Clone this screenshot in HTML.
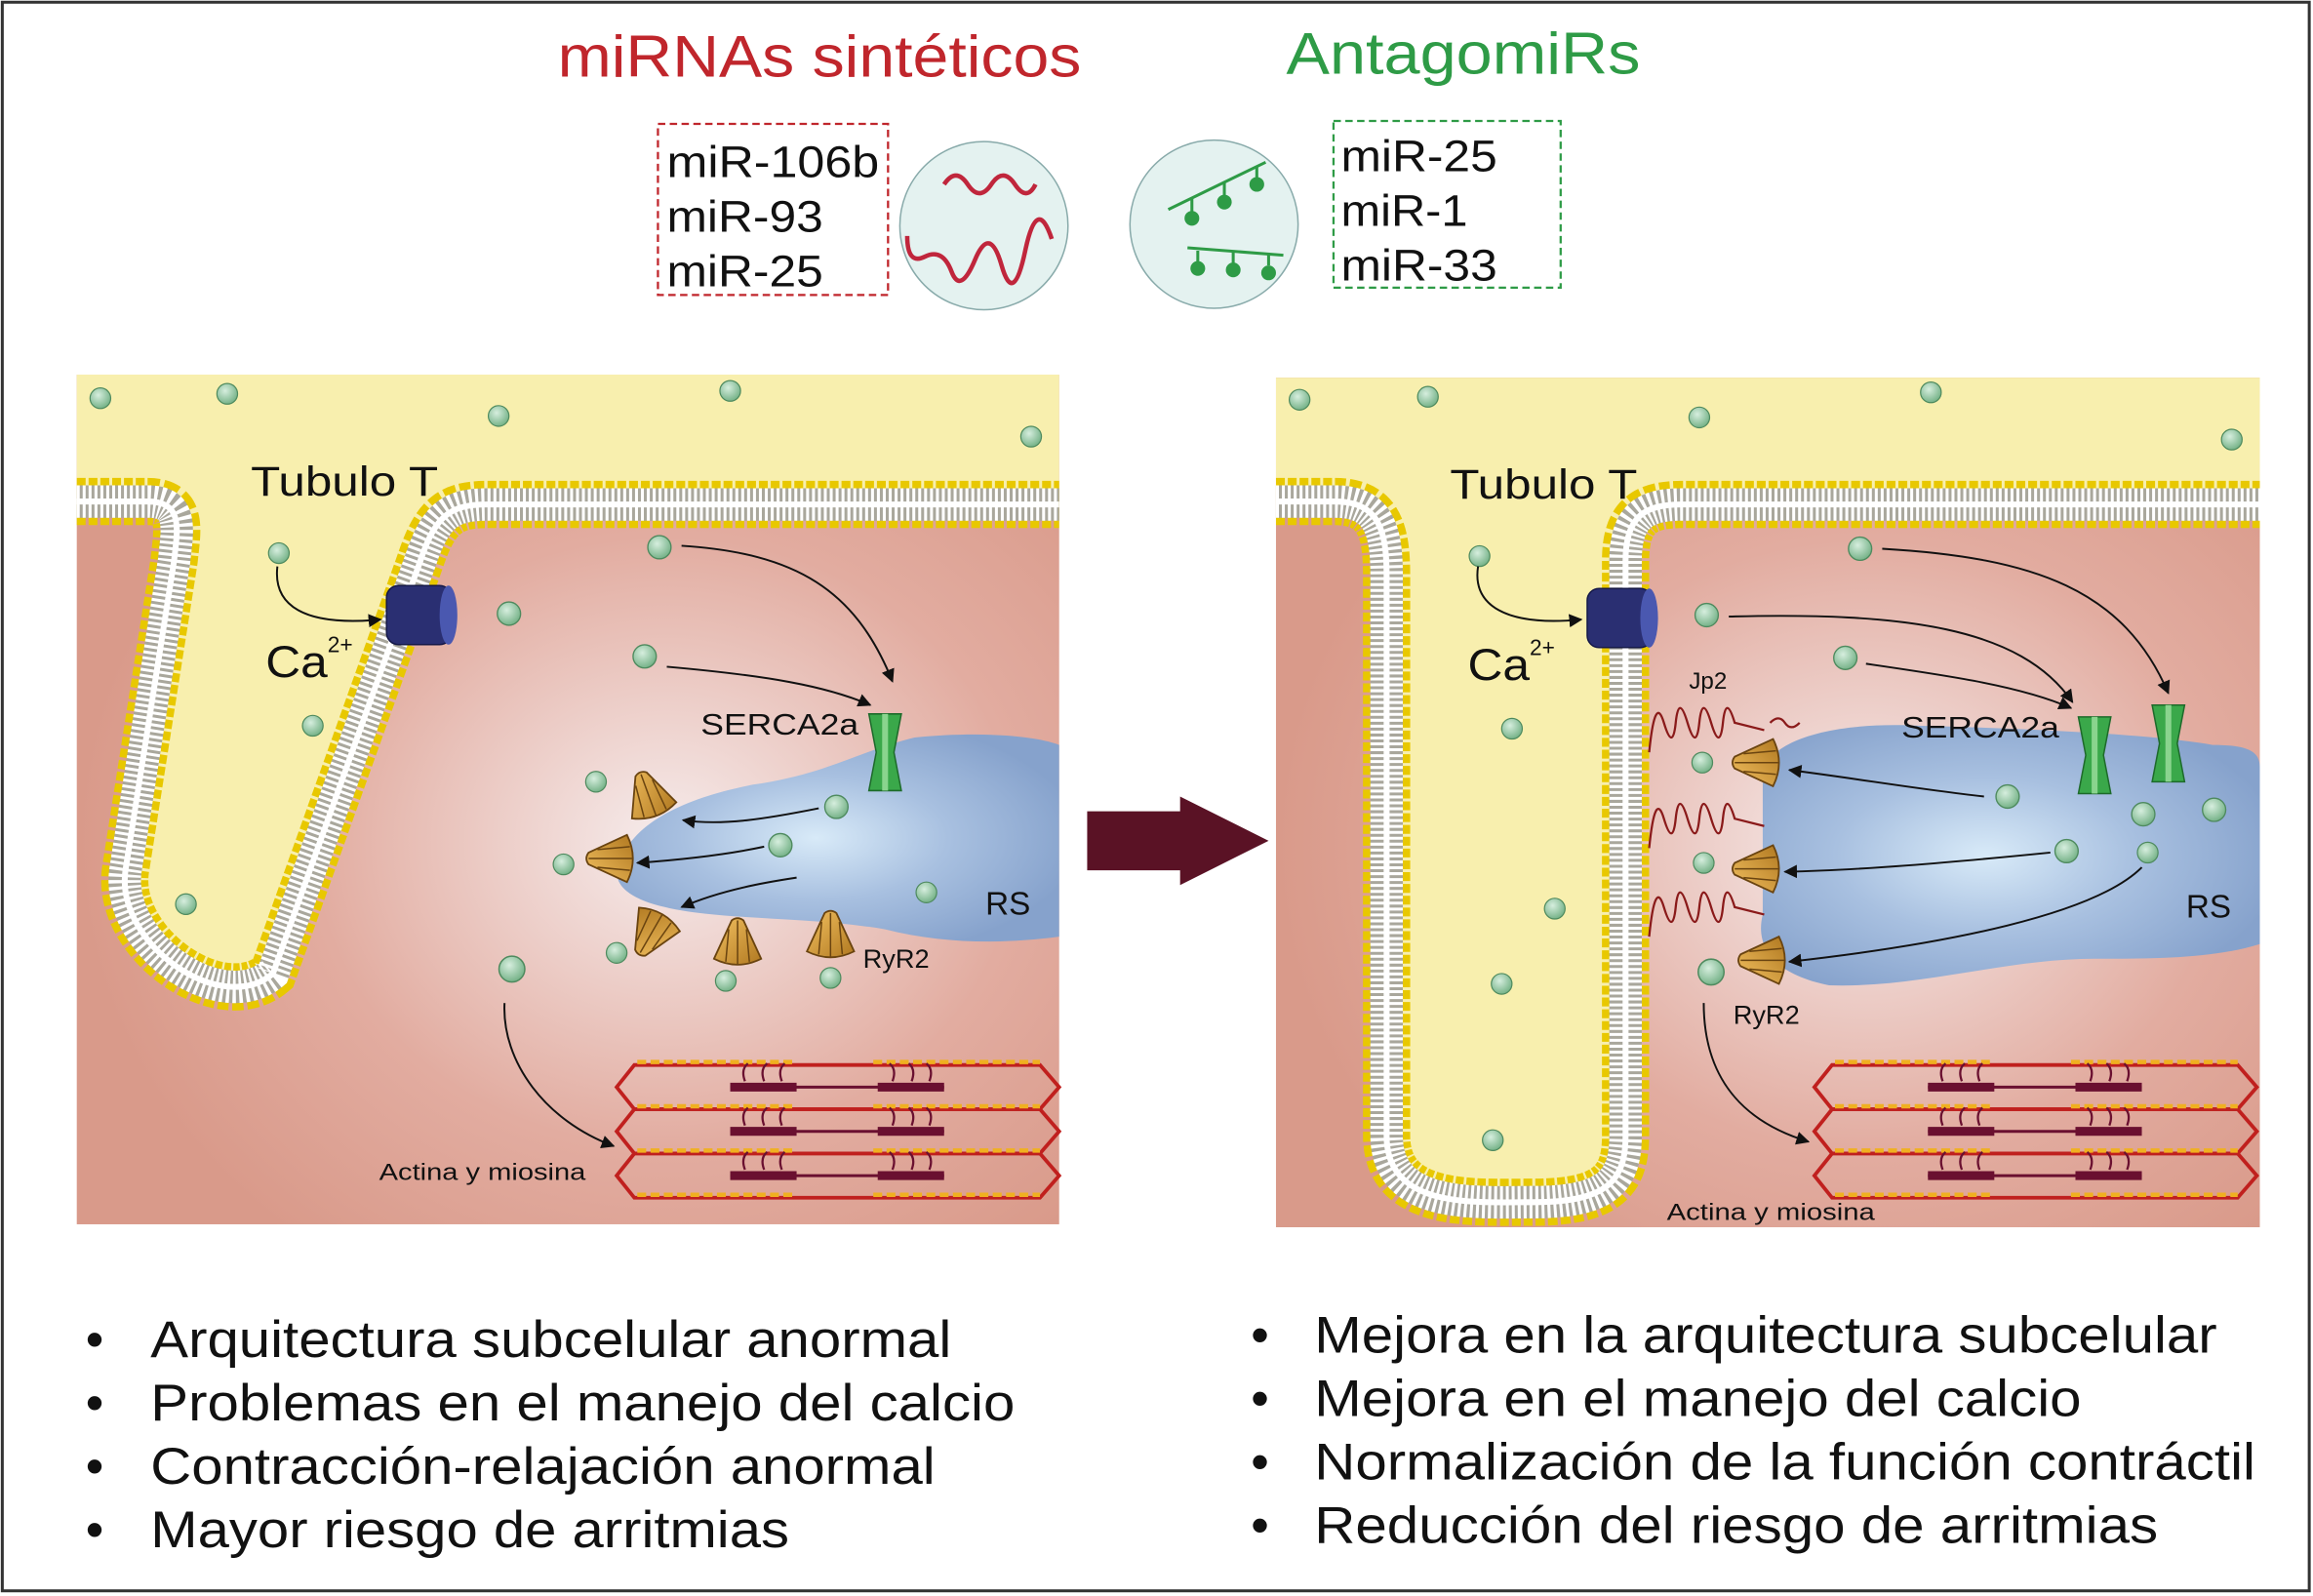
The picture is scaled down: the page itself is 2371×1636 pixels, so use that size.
<!DOCTYPE html>
<html><head><meta charset="utf-8"><style>
html,body{margin:0;padding:0;background:#fff}
svg{display:block}
text{font-family:"Liberation Sans",sans-serif}
</style></head><body>
<svg width="2371" height="1636" viewBox="0 0 1568 1082" xmlns="http://www.w3.org/2000/svg">
<defs>
<radialGradient id="cyto" cx="0.6" cy="0.55" r="0.6"><stop offset="0" stop-color="#f6ecec"/><stop offset="0.6" stop-color="#e2aca0"/><stop offset="1" stop-color="#d99a8a"/></radialGradient>
<radialGradient id="sr" cx="0.45" cy="0.5" r="0.6"><stop offset="0" stop-color="#d8eaf8"/><stop offset="0.5" stop-color="#a8c0e0"/><stop offset="1" stop-color="#86a2cc"/></radialGradient>
<radialGradient id="dot" cx="0.4" cy="0.35" r="0.7"><stop offset="0" stop-color="#d6eede"/><stop offset="1" stop-color="#6fae82"/></radialGradient>
<linearGradient id="ryr" x1="0" y1="0" x2="1" y2="1"><stop offset="0" stop-color="#f2c060"/><stop offset="1" stop-color="#b07820"/></linearGradient>
<marker id="ah" viewBox="0 0 10 10" refX="9" refY="5" markerWidth="7" markerHeight="7" orient="auto"><path d="M0,0L10,5L0,10z" fill="#111"/></marker>
<symbol id="g" viewBox="-8 -8 16 16"><circle r="7" fill="url(#dot)" stroke="#4e8a5e" stroke-width="0.8"/></symbol>
<symbol id="ry" viewBox="-20 -20 40 40"><path d="M-16,10 L-4,-16 Q0,-19 4,-16 L16,10 Q0,18 -16,10z" fill="url(#ryr)" stroke="#6a4410" stroke-width="1.2"/><path d="M-6,-10 L-8,12 M6,-10 L8,12 M0,-16 L0,14" stroke="#6a4410" stroke-width="1" fill="none"/></symbol>
<symbol id="serca" viewBox="-12 -28 24 56"><path d="M-11,-26 L11,-26 L6,0 L11,26 L-11,26 L-6,0z" fill="#3aa84a" stroke="#1d6a2a" stroke-width="1"/><rect x="-2" y="-26" width="4" height="52" fill="#8ad48e"/></symbol>
</defs>
<rect x="1.5" y="1.5" width="1564" height="1077" fill="#fff" stroke="#333" stroke-width="2"/>

<text x="378" y="52" font-size="40" fill="#c0262c" textLength="355" lengthAdjust="spacingAndGlyphs">miRNAs sintéticos</text>
<text x="872" y="50" font-size="40" fill="#2e9b46" textLength="240" lengthAdjust="spacingAndGlyphs">AntagomiRs</text>
<rect x="446" y="84" width="156" height="116" fill="none" stroke="#c0262c" stroke-width="1.5" stroke-dasharray="5 3"/>
<text x="452" y="120" font-size="30" fill="#111" textLength="144" lengthAdjust="spacingAndGlyphs">miR-106b</text>
<text x="452" y="157" font-size="30" fill="#111" textLength="106" lengthAdjust="spacingAndGlyphs">miR-93</text>
<text x="452" y="194" font-size="30" fill="#111" textLength="106" lengthAdjust="spacingAndGlyphs">miR-25</text>
<circle cx="667" cy="153" r="57" fill="#e4f2f0" stroke="#8aa" stroke-width="1"/>
<path d="M640,125 q8,-12 16,0 t16,0 t16,0 t14,0" fill="none" stroke="#c0263c" stroke-width="3"/>
<path d="M615,160 q0,20 12,14 t18,10 t16,-8 t18,4 t16,-10 t18,-8" fill="none" stroke="#c0263c" stroke-width="3"/>
<circle cx="823" cy="152" r="57" fill="#e4f2f0" stroke="#8aa" stroke-width="1"/>
<path d="M792,142 L858,110 M805,168 L870,173" stroke="#2e9b46" stroke-width="2"/>
<g fill="#2e9b46"><circle cx="808" cy="148" r="5"/><circle cx="830" cy="137" r="5"/><circle cx="852" cy="125" r="5"/><circle cx="812" cy="182" r="5"/><circle cx="836" cy="183" r="5"/><circle cx="860" cy="185" r="5"/></g>
<path d="M808,134v10M830,124v10M852,113v10M812,170v8M836,171v8M860,172v8" stroke="#2e9b46" stroke-width="2"/>
<rect x="904" y="82" width="154" height="113" fill="none" stroke="#2e9b46" stroke-width="1.5" stroke-dasharray="5 3"/>
<text x="909" y="116" font-size="30" fill="#111" textLength="106" lengthAdjust="spacingAndGlyphs">miR-25</text>
<text x="909" y="153" font-size="30" fill="#111" textLength="86" lengthAdjust="spacingAndGlyphs">miR-1</text>
<text x="909" y="190" font-size="30" fill="#111" textLength="106" lengthAdjust="spacingAndGlyphs">miR-33</text>

<!-- LEFT PANEL -->
<rect x="52" y="254" width="666" height="576" fill="url(#cyto)"/>
<path id="lm" d="M52,340 L100,340 C125,340 120,360 118,380 L85,590 C78,640 150,690 185,660 L285,380 C295,350 305,342 330,342 L718,342" fill="none"/>
<path d="M52,254 L718,254 L718,342 L330,342 C305,342 295,350 285,380 L185,660 C150,690 78,640 85,590 L118,380 C120,360 125,340 100,340 L52,340z" fill="#f8efae"/>
<use href="#lm" stroke="#e8c800" stroke-width="32" stroke-dasharray="6 2"/>
<use href="#lm" stroke="#a9a79c" stroke-width="22"/>
<use href="#lm" stroke="#fff" stroke-width="22" stroke-dasharray="2 2"/>
<use href="#lm" stroke="#fff" stroke-width="4"/>
<path d="M420,585 C430,555 470,540 510,532 C560,525 580,510 620,500 C660,496 700,498 718,505 L718,635 C680,640 640,640 600,630 C540,620 480,625 440,612 C420,605 415,595 420,585z" fill="url(#sr)"/>
<rect x="262" y="397" width="44" height="40" rx="8" fill="#2a2f72" stroke="#141848"/><ellipse cx="304" cy="417" rx="6" ry="20" fill="#4a58b0"/>
<use href="#serca" x="588" y="482" width="24" height="56"/>
<use href="#ry" x="420" y="520" width="40" height="40" transform="rotate(-20 440 540)"/>
<use href="#ry" x="395" y="562" width="40" height="40" transform="rotate(-90 415 582)"/>
<use href="#ry" x="422" y="612" width="40" height="40" transform="rotate(-150 442 632)"/>
<use href="#ry" x="480" y="620" width="40" height="40"/>
<use href="#ry" x="543" y="615" width="40" height="40"/>
<g><use href="#g" x="60" y="262" width="16" height="16"/><use href="#g" x="146" y="259" width="16" height="16"/><use href="#g" x="330" y="274" width="16" height="16"/><use href="#g" x="487" y="257" width="16" height="16"/><use href="#g" x="691" y="288" width="16" height="16"/>
<use href="#g" x="181" y="367" width="16" height="16"/><use href="#g" x="204" y="484" width="16" height="16"/><use href="#g" x="118" y="605" width="16" height="16"/>
<use href="#g" x="438" y="362" width="18" height="18"/><use href="#g" x="336" y="407" width="18" height="18"/><use href="#g" x="428" y="436" width="18" height="18"/><use href="#g" x="396" y="522" width="16" height="16"/><use href="#g" x="558" y="538" width="18" height="18"/><use href="#g" x="520" y="564" width="18" height="18"/><use href="#g" x="374" y="578" width="16" height="16"/><use href="#g" x="620" y="597" width="16" height="16"/><use href="#g" x="410" y="638" width="16" height="16"/><use href="#g" x="484" y="657" width="16" height="16"/><use href="#g" x="555" y="655" width="16" height="16"/><use href="#g" x="337" y="647" width="20" height="20"/></g>
<g fill="none" stroke="#111" stroke-width="1.3" marker-end="url(#ah)">
<path d="M188,384 C185,410 205,425 258,420"/>
<path d="M462,370 C540,375 580,400 605,462"/>
<path d="M452,452 C520,458 560,465 590,478"/>
<path d="M555,548 C520,555 490,560 463,556"/>
<path d="M518,574 C490,580 460,583 432,585"/>
<path d="M540,595 C520,598 490,603 462,615"/>
<path d="M342,680 C340,720 370,760 416,777"/>
</g>
<g id="sarcL">
<g fill="none" stroke="#c0201e" stroke-width="2.5">
<path d="M430,722 L705,722 L718,737 L705,752 L430,752 L418,737z"/>
<path d="M430,752 L705,752 L718,767 L705,782 L430,782 L418,767z"/>
<path d="M430,782 L705,782 L718,797 L705,812 L430,812 L418,797z"/>
</g>
<g stroke="#f0b020" stroke-width="3" stroke-dasharray="6 3"><path d="M432,720H540M592,720H705M432,750H540M592,750H705M432,780H540M592,780H705M432,810H540M592,810H705"/></g>
<g stroke="#6a1030" stroke-width="2"><path d="M495,737H640M495,767H640M495,797H640"/></g>
<g stroke="#6a1030" stroke-width="6"><path d="M495,737H540M595,737H640M495,767H540M595,767H640M495,797H540M595,797H640"/></g>
<g stroke="#6a1030" stroke-width="1.5" fill="none"><path d="M505,733 q-3,-8 2,-12 M518,733 q-3,-8 2,-12 M530,733 q-3,-8 2,-12 M605,733 q3,-8 -2,-12 M618,733 q3,-8 -2,-12 M630,733 q3,-8 -2,-12 M505,763 q-3,-8 2,-12 M518,763 q-3,-8 2,-12 M530,763 q-3,-8 2,-12 M605,763 q3,-8 -2,-12 M618,763 q3,-8 -2,-12 M630,763 q3,-8 -2,-12 M505,793 q-3,-8 2,-12 M518,793 q-3,-8 2,-12 M530,793 q-3,-8 2,-12 M605,793 q3,-8 -2,-12 M618,793 q3,-8 -2,-12 M630,793 q3,-8 -2,-12"/></g>
</g>
<text x="170" y="336" font-size="28" fill="#111" textLength="127" lengthAdjust="spacingAndGlyphs">Tubulo T</text>
<text x="180" y="459" font-size="30" fill="#111" textLength="42" lengthAdjust="spacingAndGlyphs">Ca</text><text x="222" y="442" font-size="15" fill="#111">2+</text>
<text x="475" y="498" font-size="20" fill="#111" textLength="107" lengthAdjust="spacingAndGlyphs">SERCA2a</text>
<text x="668" y="620" font-size="22" fill="#111">RS</text>
<text x="585" y="656" font-size="18" fill="#111">RyR2</text>
<text x="257" y="800" font-size="16" fill="#111" textLength="140" lengthAdjust="spacingAndGlyphs">Actina y miosina</text>

<path d="M737,550 L800,550 L800,540 L860,570 L800,600 L800,590 L737,590z" fill="#5a1225"/>

<!-- RIGHT PANEL -->
<rect x="865" y="256" width="667" height="576" fill="url(#cyto)"/>
<path id="rm" d="M865,340 L905,340 C935,340 940,360 940,390 L940,770 C940,820 1000,815 1040,815 C1090,815 1102,800 1102,770 L1102,380 C1102,350 1115,342 1140,342 L1532,342" fill="none"/>
<path d="M865,256 L1532,256 L1532,342 L1140,342 C1115,342 1102,350 1102,380 L1102,770 C1102,800 1090,815 1040,815 C1000,815 940,820 940,770 L940,390 C940,360 935,340 905,340 L865,340z" fill="#f8efae"/>
<use href="#rm" stroke="#e8c800" stroke-width="32" stroke-dasharray="6 2"/>
<use href="#rm" stroke="#a9a79c" stroke-width="22"/>
<use href="#rm" stroke="#fff" stroke-width="22" stroke-dasharray="2 2"/>
<use href="#rm" stroke="#fff" stroke-width="4"/>
<path d="M1195,520 C1210,495 1260,490 1300,492 C1380,494 1460,498 1500,505 C1525,505 1532,510 1532,520 L1532,640 C1500,650 1460,650 1420,650 C1360,650 1300,670 1240,668 C1200,660 1190,640 1195,620z" fill="url(#sr)"/>
<rect x="1076" y="399" width="44" height="40" rx="8" fill="#2a2f72" stroke="#141848"/><ellipse cx="1118" cy="419" rx="6" ry="20" fill="#4a58b0"/>
<use href="#serca" x="1408" y="484" width="24" height="56"/>
<use href="#serca" x="1458" y="476" width="24" height="56"/>
<use href="#ry" x="1172" y="497" width="40" height="40" transform="rotate(-90 1192 517)"/>
<use href="#ry" x="1172" y="569" width="40" height="40" transform="rotate(-90 1192 589)"/>
<use href="#ry" x="1176" y="631" width="40" height="40" transform="rotate(-90 1196 651)"/>
<g fill="none" stroke="#8a1a1a" stroke-width="1.5">
<path d="M1118,510 q4,-40 10,-20 t8,0 t8,0 t8,0 t8,0 t8,0 t8,0 l20,5 M1200,490 q6,-6 10,0 t10,0"/>
<path d="M1118,575 q4,-40 10,-20 t8,0 t8,0 t8,0 t8,0 t8,0 t8,0 l20,5"/>
<path d="M1118,635 q4,-40 10,-20 t8,0 t8,0 t8,0 t8,0 t8,0 t8,0 l20,5"/>
</g>
<g><use href="#g" x="873" y="263" width="16" height="16"/><use href="#g" x="960" y="261" width="16" height="16"/><use href="#g" x="1144" y="275" width="16" height="16"/><use href="#g" x="1301" y="258" width="16" height="16"/><use href="#g" x="1505" y="290" width="16" height="16"/>
<use href="#g" x="995" y="369" width="16" height="16"/><use href="#g" x="1017" y="486" width="16" height="16"/><use href="#g" x="1046" y="608" width="16" height="16"/><use href="#g" x="1010" y="659" width="16" height="16"/><use href="#g" x="1004" y="765" width="16" height="16"/>
<use href="#g" x="1252" y="363" width="18" height="18"/><use href="#g" x="1148" y="408" width="18" height="18"/><use href="#g" x="1242" y="437" width="18" height="18"/><use href="#g" x="1146" y="509" width="16" height="16"/><use href="#g" x="1352" y="531" width="18" height="18"/><use href="#g" x="1444" y="543" width="18" height="18"/><use href="#g" x="1492" y="540" width="18" height="18"/><use href="#g" x="1147" y="577" width="16" height="16"/><use href="#g" x="1392" y="568" width="18" height="18"/><use href="#g" x="1448" y="570" width="16" height="16"/><use href="#g" x="1150" y="649" width="20" height="20"/></g>
<g fill="none" stroke="#111" stroke-width="1.3" marker-end="url(#ah)">
<path d="M1002,384 C998,410 1020,425 1072,420"/>
<path d="M1276,372 C1380,378 1440,400 1470,470"/>
<path d="M1172,418 C1290,415 1370,425 1405,476"/>
<path d="M1265,450 C1320,458 1370,465 1404,480"/>
<path d="M1345,540 C1300,535 1260,528 1213,522"/>
<path d="M1390,578 C1320,585 1260,590 1210,591"/>
<path d="M1452,588 C1420,620 1320,640 1213,652"/>
<path d="M1155,680 C1155,730 1180,760 1226,774"/>
</g>
<use href="#sarcL" x="812" y="0"/>
<text x="983" y="338" font-size="28" fill="#111" textLength="127" lengthAdjust="spacingAndGlyphs">Tubulo T</text>
<text x="995" y="461" font-size="30" fill="#111" textLength="42" lengthAdjust="spacingAndGlyphs">Ca</text><text x="1037" y="444" font-size="15" fill="#111">2+</text>
<text x="1145" y="467" font-size="16" fill="#111">Jp2</text>
<text x="1289" y="500" font-size="20" fill="#111" textLength="107" lengthAdjust="spacingAndGlyphs">SERCA2a</text>
<text x="1482" y="622" font-size="22" fill="#111">RS</text>
<text x="1175" y="694" font-size="18" fill="#111">RyR2</text>
<text x="1130" y="827" font-size="16" fill="#111" textLength="141" lengthAdjust="spacingAndGlyphs">Actina y miosina</text>

<g font-size="35" fill="#111" lengthAdjust="spacingAndGlyphs">
<text x="58" y="920">•</text><text x="102" y="920" textLength="543" lengthAdjust="spacingAndGlyphs">Arquitectura subcelular anormal</text>
<text x="58" y="963">•</text><text x="102" y="963" textLength="586" lengthAdjust="spacingAndGlyphs">Problemas en el manejo del calcio</text>
<text x="58" y="1006">•</text><text x="102" y="1006" textLength="532" lengthAdjust="spacingAndGlyphs">Contracción-relajación anormal</text>
<text x="58" y="1049">•</text><text x="102" y="1049" textLength="433" lengthAdjust="spacingAndGlyphs">Mayor riesgo de arritmias</text>
<text x="848" y="917">•</text><text x="891" y="917" textLength="612" lengthAdjust="spacingAndGlyphs">Mejora en la arquitectura subcelular</text>
<text x="848" y="960">•</text><text x="891" y="960" textLength="520" lengthAdjust="spacingAndGlyphs">Mejora en el manejo del calcio</text>
<text x="848" y="1003">•</text><text x="891" y="1003" textLength="638" lengthAdjust="spacingAndGlyphs">Normalización de la función contráctil</text>
<text x="848" y="1046">•</text><text x="891" y="1046" textLength="572" lengthAdjust="spacingAndGlyphs">Reducción del riesgo de arritmias</text>
</g>
</svg>
</body></html>
